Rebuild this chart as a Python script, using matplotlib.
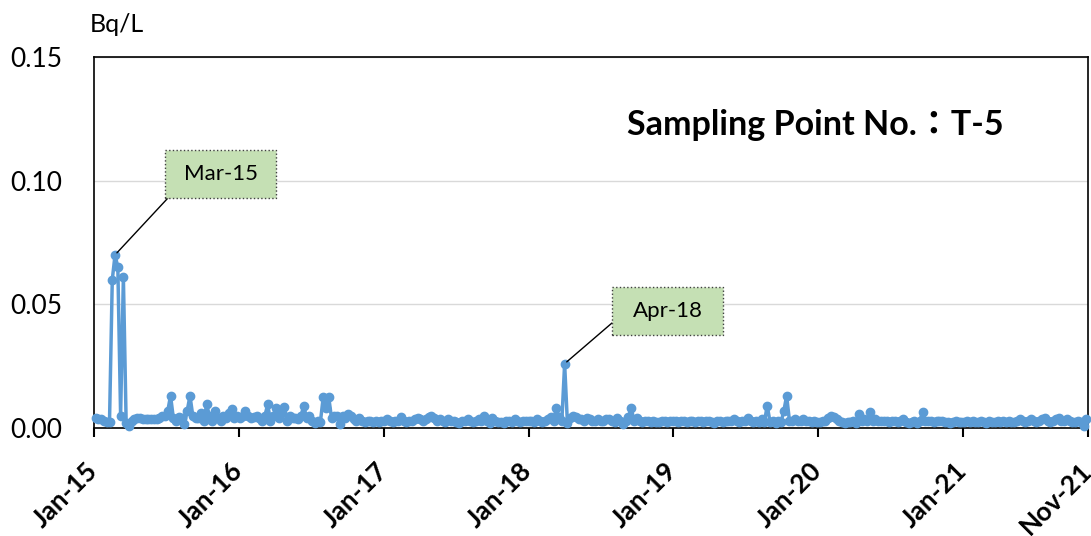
import numpy as np
import pandas as pd
import matplotlib
matplotlib.use("Agg")
import matplotlib.pyplot as plt
import matplotlib.transforms as mtransforms
from matplotlib.patches import Rectangle

plt.rcParams['font.family'] = ['Lato', 'DejaVu Sans']

# weekly samples, values in mBq/L
v2015 = [4, 3.8, 3.5, 3, 2.5, 2.5, 60, 70, 65, 5,
         61, 2, 1, 3, 3.5, 4, 4, 3.5, 3.5, 3.5,
         3.5, 3.5, 3.5, 4, 5, 5, 7, 13, 4, 3,
         4.5, 4, 1.5, 7, 13, 5, 4, 4, 6, 3,
         9.5, 5, 3, 7, 4, 3, 5, 4, 6, 7.5,
         4, 5]
v2016 = [4, 5, 7, 5, 4, 4.5, 5, 4, 3, 5,
         9.5, 3, 5, 8, 4, 6, 8.5, 3, 5, 4,
         4, 3.5, 5, 9, 4, 5, 3, 2, 3, 2.5,
         12.4, 8, 12.4, 4, 5, 5, 1.5, 5, 4, 5.5,
         5, 3.5, 3, 4, 3, 2.5, 3, 3, 2.5, 3,
         2.5, 3]
v2017 = [3, 3.5, 3, 2.5, 3, 3, 4.5, 3, 2.5, 3,
         3, 3.5, 4, 3.5, 3, 3.5, 4.5, 5, 4, 3,
         3.5, 3, 2.5, 3.5, 3, 3, 2.5, 2, 3, 3,
         3.5, 3, 2.5, 3, 3.5, 3, 5, 3, 2, 4,
         3, 2.5, 2.5, 2, 3, 3, 2.5, 3.5, 3, 2.5,
         3, 3]
v2018 = [3, 3, 2.5, 3.5, 3, 2.5, 3, 3.5, 4.5, 3,
         8, 4.5, 3, 26, 2, 4, 5, 4.5, 3.5, 3.5,
         3, 4, 3.5, 3, 3, 3.5, 3, 3, 3.5, 3.5,
         3, 2.5, 4, 3, 1.5, 3, 4.5, 8, 3, 4,
         3, 2.5, 3, 3, 2.5, 3, 2.5, 2.5, 3, 3,
         2.5, 3, 3]
v2019 = [3, 2.5, 3, 3, 2.5, 3, 3, 2.5, 3, 3,
         2.5, 3, 3, 2.5, 2, 3, 3, 2.5, 3, 3,
         3, 3.5, 3, 2.5, 3, 3, 4, 3, 2.5, 3,
         2.5, 3.5, 2.5, 9, 2.5, 3, 2, 3, 2.5, 7,
         13, 3, 3, 3.5, 3, 3, 3.5, 3, 3, 2.5,
         3, 2.5]
v2020 = [2.5, 3, 3, 4, 5, 4.5, 3.5, 3, 2.5, 2,
         2.5, 2.5, 3, 2, 5.5, 3, 3.5, 3, 6.5, 3,
         3.5, 3, 3, 3, 3, 2.5, 3, 3, 2.5, 3,
         3.5, 2.5, 2, 2.5, 3, 2, 3, 6.5, 3, 3,
         3, 2.5, 3, 3, 3, 2.5, 2.5, 2, 2.5, 3,
         2.5, 2.5]
v2021 = [2.5, 3, 2.5, 3, 2.5, 2.5, 3, 2.5, 2, 3,
         2.5, 2.5, 3, 2.5, 3, 2.5, 3, 2.5, 2.5, 3,
         3.5, 3, 2.5, 3, 3.5, 3, 2.5, 3, 3.5, 4,
         3, 2.5, 3, 3.5, 4, 3, 3, 3.5, 3, 2.5,
         2.5, 3, 2.5, 1, 3.5]

values = np.array(v2015 + v2016 + v2017 + v2018 + v2019 + v2020 + v2021) / 1000.0
dates = pd.date_range('2015-01-05', periods=len(values), freq='7D')

tick_dates = pd.to_datetime(['2015-01-01', '2016-01-01', '2017-01-01', '2018-01-01',
                             '2019-01-01', '2020-01-01', '2021-01-01', '2021-11-12'])
tick_labels = ['Jan-15', 'Jan-16', 'Jan-17', 'Jan-18', 'Jan-19', 'Jan-20', 'Jan-21', 'Nov-21']

# labelled peaks: (label, sample index)
peaks = [('Mar-15', 7), ('Apr-18', 13 + 52 * 3)]

fig = plt.figure(figsize=(10.91, 5.36), dpi=100)
ax = fig.add_axes([0.0862, 0.2015, 0.911, 0.6922])

ax.plot(dates, values, color='#5B9BD5', lw=2.5, marker='o', ms=6,
        mfc='#5B9BD5', mec='#5B9BD5', clip_on=False, zorder=3)

ax.set_xlim(tick_dates[0], tick_dates[-1])
ax.set_ylim(0, 0.15)
ax.set_yticks([0, 0.05, 0.10, 0.15])
ax.set_yticklabels(['0.00', '0.05', '0.10', '0.15'], fontsize=19)
ax.yaxis.grid(True, color='#D9D9D9', lw=1)
ax.set_axisbelow(True)
ax.tick_params(axis='y', length=0, pad=23)

ax.set_xticks(tick_dates)
ax.set_xticklabels(tick_labels, rotation=45, ha='right', va='top',
                   rotation_mode='anchor', fontsize=19, fontweight='bold')
ax.tick_params(axis='x', length=6.5, width=1.5, direction='out', pad=15)
shift = mtransforms.ScaledTranslation(-9 / 100, 0, fig.dpi_scale_trans)
for lbl in ax.get_xticklabels():
    lbl.set_transform(lbl.get_transform() + shift)

for s in ax.spines.values():
    s.set_color('black')
    s.set_linewidth(1.2)

fig.text(0.0825, 1 - 24 / 536, 'Bq/L', fontsize=18, va='center', ha='left')
ax.text(0.726, 0.8167, 'Sampling Point No.：T-5', transform=ax.transAxes,
        ha='center', va='center', fontsize=24.5, fontweight='bold',
        family=['Lato', 'Noto Sans CJK JP', 'DejaVu Sans'])

# callout boxes in axes fraction: left, bottom, width, height, line end
boxes = [(0.0714, 0.620, 0.1117, 0.1294, (0.0744, 0.620)),
         (0.5211, 0.2507, 0.1117, 0.1294, (0.5211, 0.283))]
for (lab, idx), (bx, by, bw, bh, end) in zip(peaks, boxes):
    ax.annotate('', xy=(dates[idx], values[idx]), xytext=end,
                textcoords='axes fraction',
                arrowprops=dict(arrowstyle='-', color='black', lw=1,
                                shrinkA=0, shrinkB=2))
    ax.add_patch(Rectangle((bx, by), bw, bh, transform=ax.transAxes,
                           facecolor='#C5E0B4', edgecolor='#404040',
                           lw=1, ls=':', zorder=4))
    ax.text(bx + bw / 2, by + bh / 2, lab, transform=ax.transAxes,
            ha='center', va='center', fontsize=16, zorder=5)

fig.savefig('out.png', dpi=100)
